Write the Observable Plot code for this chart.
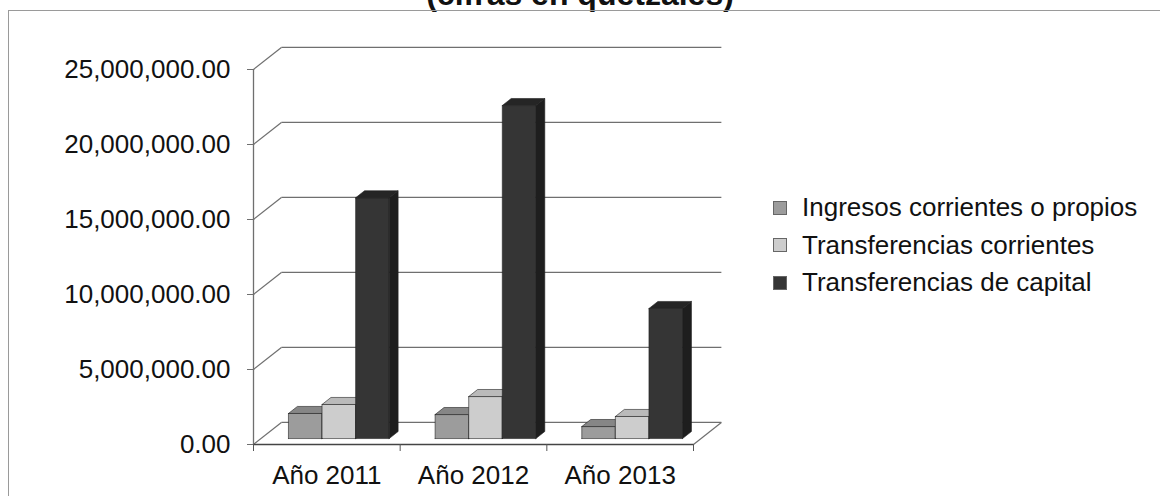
<!DOCTYPE html>
<html>
<head>
<meta charset="utf-8">
<script src="https://cdn.jsdelivr.net/npm/d3@7"></script>
<script src="https://cdn.jsdelivr.net/npm/@observablehq/plot@0.6"></script>
<style>
  html, body { margin: 0; padding: 0; background: #fff; }
  body { width: 1160px; height: 496px; position: relative; overflow: hidden; font-family: "Liberation Sans", Arial, sans-serif; }
  #frame { position: absolute; left: 8px; top: 10px; width: 1200px; height: 600px; border-top: 1.5px solid #9a9a9a; border-left: 1.5px solid #9a9a9a; }
  #title { position: absolute; left: 0; width: 1160px; top: -21px; text-align: center; font-size: 32px; font-weight: bold; line-height: 30px; color: #111; }
  #chart { position: absolute; left: 0; top: 0; }
  #legend { position: absolute; left: 773px; top: 189px; font-size: 26px; color: #111; }
  .row { display: flex; align-items: center; height: 37.5px; }
  .sw { width: 12px; height: 12px; margin-right: 15px; }
</style>
</head>
<body>
<div id="title">(cifras en quetzales)</div>
<div id="frame"></div>
<div id="chart"></div>
<div id="legend"></div>
<script>
// ---- data ----
const categories = ["Año 2011", "Año 2012", "Año 2013"];
const seriesNames = ["Ingresos corrientes o propios", "Transferencias corrientes", "Transferencias de capital"];
const ingresos = [1670000, 1600000, 800000];
const transCorrientes = [2270000, 2800000, 1470000];
const transCapital = [16050000, 22200000, 8670000];
const yTicks = [0, 5000000, 10000000, 15000000, 20000000, 25000000];

// ---- styling / geometry ----
const frontColors = ["#9c9c9c", "#cdcdcd", "#353535"];
const topColors = ["#868686", "#bababa", "#252525"];
const sideColors = ["#7a7a7a", "#b0b0b0", "#1e1e1e"];
const WALL_DX = 0.19;       // depth of the floor in x units
const WALL_DY = 1470000;    // depth of the floor in y units
const Z0 = 0.27, Z1 = 0.59; // bar depth range (fraction of floor depth)
const BAR_W = 0.229, GROUP_OFF = 0.187;

const seriesValues = [ingresos, transCorrientes, transCapital];

const marks = [];
// back wall gridlines and connectors
marks.push(Plot.link(yTicks, {x1: 0, y1: d => d, x2: WALL_DX, y2: d => d + WALL_DY, stroke: "#6f6f6f", strokeWidth: 1.2}));
marks.push(Plot.link(yTicks, {x1: WALL_DX, y1: d => d + WALL_DY, x2: 3 + WALL_DX, y2: d => d + WALL_DY, stroke: "#6f6f6f", strokeWidth: 1.2}));
// floor
marks.push(Plot.link([0], {x1: 0, y1: 0, x2: 3, y2: 0, stroke: "#444", strokeWidth: 1.3}));
marks.push(Plot.link([3], {x1: 3, y1: 0, x2: 3 + WALL_DX, y2: WALL_DY, stroke: "#6f6f6f", strokeWidth: 1.2}));
// y axis line
marks.push(Plot.ruleX([0], {y1: 0, y2: yTicks[yTicks.length - 1], stroke: "#6f6f6f", strokeWidth: 1.3}));

// bars
const ddx = (Z1 - Z0) * WALL_DX, ddy = (Z1 - Z0) * WALL_DY;
categories.forEach((c, i) => {
  seriesValues.forEach((vals, j) => {
    const v = vals[i];
    const x0 = i + GROUP_OFF + j * BAR_W + Z0 * WALL_DX;
    const x1 = x0 + BAR_W;
    const yb = Z0 * WALL_DY;
    const yt = yb + v;
    const front = [[x0, yb], [x1, yb], [x1, yt], [x0, yt], [x0, yb]];
    const top = [[x0, yt], [x1, yt], [x1 + ddx, yt + ddy], [x0 + ddx, yt + ddy], [x0, yt]];
    const side = [[x1, yb], [x1 + ddx, yb + ddy], [x1 + ddx, yt + ddy], [x1, yt], [x1, yb]];
    marks.push(Plot.line(front, {x: d => d[0], y: d => d[1], fill: frontColors[j], stroke: "#222", strokeWidth: 0.6}));
    marks.push(Plot.line(top, {x: d => d[0], y: d => d[1], fill: topColors[j], stroke: "#222", strokeWidth: 0.6}));
    marks.push(Plot.line(side, {x: d => d[0], y: d => d[1], fill: sideColors[j], stroke: "#222", strokeWidth: 0.6}));
  });
});

// axes
marks.push(Plot.axisY(yTicks, {tickFormat: d3.format(",.2f"), tickSize: 6, tickPadding: 17, fontSize: 26, label: null, stroke: "#6f6f6f"}));
marks.push(Plot.axisX([0, 1, 2, 3], {tickSize: 7, tickFormat: () => "", label: null, stroke: "#555"}));
marks.push(Plot.axisX([0.5, 1.5, 2.5], {tickSize: 0, tickPadding: 21, fontSize: 26, tickFormat: d => categories[Math.floor(d)], label: null}));

const chart = Plot.plot({
  width: 1160,
  height: 496,
  marginLeft: 253,
  marginRight: 467,
  marginTop: 69,
  marginBottom: 52,
  x: {domain: [0, 3], axis: null},
  y: {domain: [0, 25000000], axis: null},
  style: {fontFamily: "'Liberation Sans', Arial, sans-serif", background: "transparent", color: "#111", overflow: "visible"},
  marks
});
document.getElementById("chart").appendChild(chart);

// legend
const legend = document.getElementById("legend");
seriesNames.forEach((name, j) => {
  const row = document.createElement("div");
  row.className = "row";
  const sw = document.createElement("div");
  sw.className = "sw";
  sw.style.background = frontColors[j];
  sw.style.border = "0.5px solid #666";
  const t = document.createElement("span");
  t.textContent = name;
  row.appendChild(sw);
  row.appendChild(t);
  legend.appendChild(row);
});
</script>
</body>
</html>
